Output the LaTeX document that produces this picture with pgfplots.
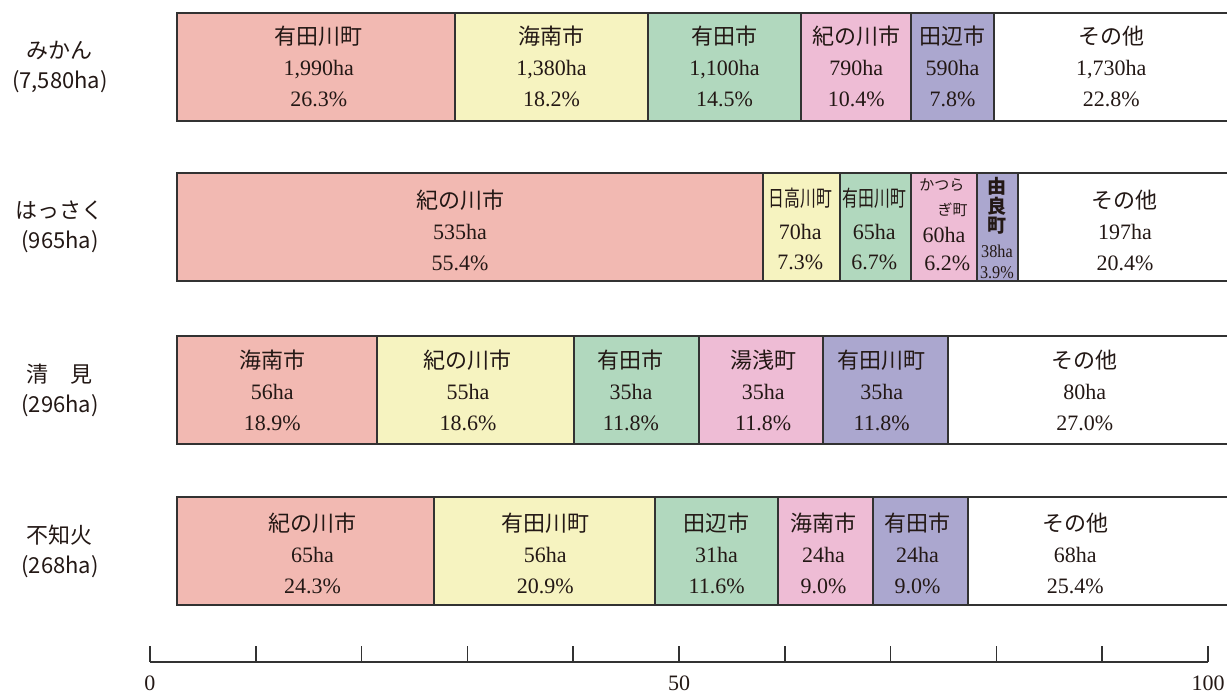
\documentclass[border=0pt]{standalone}
\usepackage{fontspec}
\usepackage{graphicx}
\usepackage{pgfplots}
\pgfplotsset{compat=1.18}
\setmainfont{Liberation Serif}
\newfontfamily\jp{Noto Sans CJK JP}

\definecolor{c1}{RGB}{242,185,178}
\definecolor{c2}{RGB}{246,243,192}
\definecolor{c3}{RGB}{177,216,190}
\definecolor{c4}{RGB}{238,188,213}
\definecolor{c5}{RGB}{171,167,207}
\definecolor{txt}{RGB}{35,24,21}
\definecolor{edge}{RGB}{50,50,50}

\tikzset{lbl/.style={inner sep=0pt,text=txt}}
% three-line label inside a bar segment (x in percent, y in pixel rows)
\newcommand{\seg}[5]{\node[lbl,align=center,
  font=\fontsize{11}{15.5}\selectfont] at (#1,#2) {{\jp #3}\\#4\\#5};}

\begin{document}
\begin{tikzpicture}
\useasboundingbox (0,0) rectangle (613.5pt,347.5pt);

% bars: x in percent, y in pixel rows (1px = 0.5pt)
\begin{axis}[
  at={(88.5pt,347.5pt)}, anchor=north west,
  width=529pt, height=347.5pt, scale only axis,
  xmin=0, xmax=100, ymin=0, ymax=695, y dir=reverse,
  xbar stacked, bar width=108,
  axis line style={draw=none}, tick style={draw=none},
  xtick=\empty,
  ytick={67,227,390,551},
  yticklabels={{みかん\\(7,580ha)},{はっさく\\(965ha)},{清　見\\(296ha)},{不知火\\(268ha)}},
  yticklabel style={anchor=center, align=center, xshift=-58.5pt, text=txt,
    font=\jp\fontsize{11}{15}\selectfont},
  clip=false,
  every axis plot/.append style={draw=edge, line width=1pt},
]
\addplot[fill=c1] coordinates {(26.3,67) (55.4,227) (18.9,390) (24.3,551)};
\addplot[fill=c2] coordinates {(18.2,67) (7.3,227) (18.6,390) (20.9,551)};
\addplot[fill=c3] coordinates {(14.5,67) (6.7,227) (11.8,390) (11.6,551)};
\addplot[fill=c4] coordinates {(10.4,67) (6.2,227) (11.8,390) (9.0,551)};
\addplot[fill=c5] coordinates {(7.8,67) (3.9,227) (11.8,390) (9.0,551)};
\addplot[fill=white] coordinates {(22.8,67) (20.4,227) (27.0,390) (25.4,551)};
\end{axis}

% segment labels, in the same frame as the bar axis
\begin{scope}[shift={(88.5pt,347.5pt)}, x=5.29pt, y=-0.5pt]
% みかん
\seg{13.4}{66}{有田川町}{1,990ha}{26.3\%}
\seg{35.4}{66}{海南市}{1,380ha}{18.2\%}
\seg{51.75}{66}{有田市}{1,100ha}{14.5\%}
\seg{64.2}{66}{紀の川市}{790ha}{10.4\%}
\seg{73.3}{66}{田辺市}{590ha}{7.8\%}
\seg{88.3}{66}{その他}{1,730ha}{22.8\%}
% はっさく
\seg{26.75}{230}{紀の川市}{535ha}{55.4\%}
\seg{89.6}{230}{その他}{197ha}{20.4\%}
\node[lbl,font=\jp\fontsize{11}{12}\selectfont] at (58.9,198) {\scalebox{0.72}[1]{日高川町}};
\node[lbl,font=\fontsize{11}{12}\selectfont] at (58.9,232) {70ha};
\node[lbl,font=\fontsize{11}{12}\selectfont] at (58.9,262) {7.3\%};
\node[lbl,font=\jp\fontsize{11}{12}\selectfont] at (65.9,198) {\scalebox{0.72}[1]{有田川町}};
\node[lbl,font=\fontsize{11}{12}\selectfont] at (65.9,232) {65ha};
\node[lbl,font=\fontsize{11}{12}\selectfont] at (65.9,262) {6.7\%};
\node[lbl,font=\jp\fontsize{7.5}{8}\selectfont] at (72.3,185) {かつら};
\node[lbl,font=\jp\fontsize{7.5}{8}\selectfont] at (73.3,210) {ぎ町};
\node[lbl,font=\fontsize{11}{12}\selectfont] at (72.5,235) {60ha};
\node[lbl,font=\fontsize{11}{12}\selectfont] at (72.8,263) {6.2\%};
\node[lbl,font=\jp\bfseries\fontsize{9.5}{9.8}\selectfont,align=center] at (77.5,206) {由\\良\\町};
\node[lbl,font=\fontsize{9}{10}\selectfont] at (77.5,251) {\scalebox{0.9}[1]{38ha}};
\node[lbl,font=\fontsize{9}{10}\selectfont] at (77.5,273) {\scalebox{0.9}[1]{3.9\%}};
% 清見
\seg{9.0}{390}{海南市}{56ha}{18.9\%}
\seg{27.5}{390}{紀の川市}{55ha}{18.6\%}
\seg{42.9}{390}{有田市}{35ha}{11.8\%}
\seg{55.4}{390}{湯浅町}{35ha}{11.8\%}
\seg{66.6}{390}{有田川町}{35ha}{11.8\%}
\seg{85.8}{390}{その他}{80ha}{27.0\%}
% 不知火
\seg{12.8}{553}{紀の川市}{65ha}{24.3\%}
\seg{34.8}{553}{有田川町}{56ha}{20.9\%}
\seg{51.0}{553}{田辺市}{31ha}{11.6\%}
\seg{61.1}{553}{海南市}{24ha}{9.0\%}
\seg{70.0}{553}{有田市}{24ha}{9.0\%}
\seg{84.9}{553}{その他}{68ha}{25.4\%}
\end{scope}

% scale ruler at the bottom
\begin{axis}[
  at={(75pt,16.5pt)}, anchor=south west,
  width=529pt, height=20pt, scale only axis,
  xmin=0, xmax=100, ymin=0, ymax=1,
  axis x line=bottom, axis y line=none,
  xtick={0,10,...,100}, xticklabels={0,,,,,50,,,,,100},
  tick align=inside, major tick length=8pt,
  axis line style={-, edge, line width=0.8pt},
  tick style={edge, line width=0.8pt},
  xticklabel style={font=\fontsize{11}{12}\selectfont, text=txt, yshift=-3.5pt},
]
\addplot[draw=none] coordinates {(0,0) (100,1)};
\end{axis}
\end{tikzpicture}
\end{document}
